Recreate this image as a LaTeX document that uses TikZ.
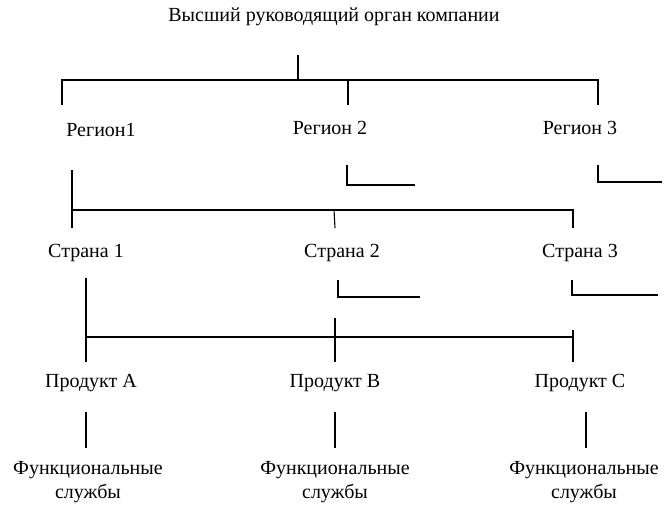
\documentclass[tikz,border=0pt]{standalone}
\usepackage{fontspec}
\setmainfont{Liberation Serif}
\usetikzlibrary{positioning}

\begin{document}
\begin{tikzpicture}[x=1pt,y=-1pt,line width=1.1pt,
  every node/.style={font=\fontsize{20}{24}\selectfont,align=center,inner sep=0pt}]
  \useasboundingbox (0,0) rectangle (667,521);
  % levels
  \node (top) at (334,17) {Высший руководящий орган компании};
  \node (r1) at (101,130) {Регион1};
  \node (r2) at (330,128) {Регион 2};
  \node (r3) at (580,128) {Регион 3};
  \node (c1) at (86,253) {Страна 1};
  \node (c2) at (342,253) {Страна 2};
  \node (c3) at (580,253) {Страна 3};
  \node (p1) at (91,383) {Продукт А};
  \node (p2) at (335,383) {Продукт В};
  \node (p3) at (580,383) {Продукт С};
  \node (f1) at (88,482) {Функциональные\\службы};
  \node (f2) at (335,482) {Функциональные\\службы};
  \node (f3) at (584,482) {Функциональные\\службы};

  % junction points
  \coordinate (t0) at (298,55);
  \coordinate (t1) at (298,80);
  \coordinate (ta) at (62,80);  \coordinate (ta') at (62,105);
  \coordinate (tb) at (348,80); \coordinate (tb') at (348,105);
  \coordinate (tc) at (598,80); \coordinate (tc') at (598,105);

  \coordinate (r2a) at (347,165); \coordinate (r2b) at (347,185); \coordinate (r2c) at (415,185);
  \coordinate (r3a) at (598,165); \coordinate (r3b) at (598,182); \coordinate (r3c) at (662,182);

  \coordinate (r1a) at (72,170); \coordinate (r1b) at (72,228);
  \coordinate (ha) at (72,210);  \coordinate (hb) at (573,210);
  \coordinate (sb) at (334,210); \coordinate (sb') at (335,228);
  \coordinate (sc') at (573,228);

  \coordinate (c2a) at (338,280); \coordinate (c2b) at (338,297); \coordinate (c2c) at (420,297);
  \coordinate (c3a) at (572,280); \coordinate (c3b) at (572,295); \coordinate (c3c) at (658,295);

  \coordinate (c1a) at (86,278); \coordinate (c1b) at (86,362);
  \coordinate (ka) at (86,337);  \coordinate (kb) at (573,337);
  \coordinate (pb) at (335,318); \coordinate (pb') at (335,362);
  \coordinate (pc) at (573,330); \coordinate (pc') at (573,362);

  \coordinate (fa) at (86,412);  \coordinate (fa') at (86,448);
  \coordinate (fb) at (335,412); \coordinate (fb') at (335,448);
  \coordinate (fc) at (586,412); \coordinate (fc') at (586,448);

  % connectors
  \draw (t0) -- (t1);
  \draw (ta') -- (ta) -- (tc) -- (tc');
  \draw (tb) -- (tb');
  \draw (r2a) -- (r2b) -- (r2c);
  \draw (r3a) -- (r3b) -- (r3c);
  \draw (r1a) -- (r1b);
  \draw (ha) -- (hb) -- (sc');
  \draw (sb) -- (sb');
  \draw (c2a) -- (c2b) -- (c2c);
  \draw (c3a) -- (c3b) -- (c3c);
  \draw (c1a) -- (c1b);
  \draw (ka) -- (kb);
  \draw (pb) -- (pb');
  \draw (pc) -- (pc');
  \draw (fa) -- (fa');
  \draw (fb) -- (fb');
  \draw (fc) -- (fc');
\end{tikzpicture}
\end{document}
